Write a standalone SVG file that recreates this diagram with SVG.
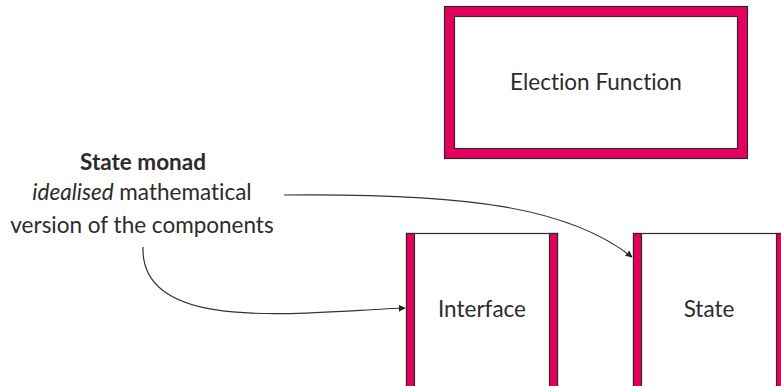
<svg xmlns="http://www.w3.org/2000/svg" width="781" height="386" viewBox="0 0 781 386">
  <style>
    .lbl { font-family: Lato, "Open Sans", "Liberation Sans", sans-serif; font-size: 22.5px; font-weight: 400; fill: #2b2b2b; text-anchor: middle; font-variant-ligatures: none; font-feature-settings: "liga" 0, "dlig" 0; }
    .bold { font-weight: bold; }
    .pink { fill: #e6005e; stroke: #2b2b2b; stroke-width: 1.2; }
    .body { fill: #ffffff; stroke: #2b2b2b; stroke-width: 1.2; }
    .conn { fill: none; stroke: #333333; stroke-width: 1.2; marker-end: url(#arrow); }
  </style>
  <defs>
    <marker id="arrow" viewBox="0 0 10 10" refX="9" refY="5" markerWidth="7" markerHeight="7" markerUnits="userSpaceOnUse" orient="auto">
      <path d="M0,0 L10,5 L0,10 z" fill="#222222"/>
    </marker>
  </defs>
  <rect width="781" height="386" fill="#ffffff"/>

  <!-- Election Function: full pink frame -->
  <g id="election-function">
    <rect class="pink" x="444.5" y="6.5" width="303" height="152"/>
    <rect class="body" x="454.5" y="16.5" width="283" height="132"/>
    <text class="lbl" x="596" y="90">Election Function</text>
  </g>

  <!-- Interface: pink side bars -->
  <g id="interface">
    <rect class="body" x="406.5" y="233.5" width="151" height="160"/>
    <rect class="pink" x="406.5" y="233.5" width="8" height="160"/>
    <rect class="pink" x="549.5" y="233.5" width="8" height="160"/>
    <text class="lbl" x="482" y="317">Interface</text>
  </g>

  <!-- State: pink side bars -->
  <g id="state">
    <rect class="body" x="633.5" y="233.5" width="151" height="160"/>
    <rect class="pink" x="633.5" y="233.5" width="8" height="160"/>
    <rect class="pink" x="776.5" y="233.5" width="8" height="160"/>
    <text class="lbl" x="709" y="317">State</text>
  </g>

  <!-- Annotation -->
  <g id="state-monad">
    <text class="lbl bold" x="143" y="170">State monad</text>
    <text class="lbl" x="142" y="200"><tspan font-style="italic">idealised</tspan> mathematical</text>
    <text class="lbl" x="142" y="233">version of the components</text>
  </g>

  <g id="connectors">
    <path class="conn" d="M284,195 C470,193 570,208 632,257"/>
    <path class="conn" d="M143,247 C140,335 300,312 405,308"/>
  </g>
</svg>
